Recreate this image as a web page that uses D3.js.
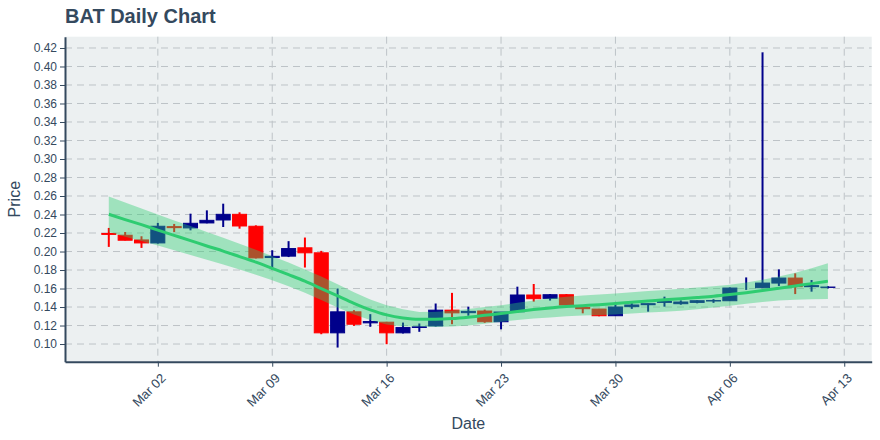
<!DOCTYPE html>
<html><head><meta charset="utf-8">
<script src="https://cdnjs.cloudflare.com/ajax/libs/d3/7.8.5/d3.min.js"></script>
<style>body{margin:0;background:#fff;} svg{display:block;font-family:"Liberation Sans",Arial,sans-serif;}</style>
</head><body><svg id="chart" width="880" height="440"></svg>
<script>
const dates = ["2020-02-28","2020-02-29","2020-03-01","2020-03-02","2020-03-03","2020-03-04","2020-03-05","2020-03-06","2020-03-07","2020-03-08",
"2020-03-09","2020-03-10","2020-03-11","2020-03-12","2020-03-13","2020-03-14","2020-03-15","2020-03-16","2020-03-17","2020-03-18",
"2020-03-19","2020-03-20","2020-03-21","2020-03-22","2020-03-23","2020-03-24","2020-03-25","2020-03-26","2020-03-27","2020-03-28",
"2020-03-29","2020-03-30","2020-03-31","2020-04-01","2020-04-02","2020-04-03","2020-04-04","2020-04-05","2020-04-06","2020-04-07",
"2020-04-08","2020-04-09","2020-04-10","2020-04-11","2020-04-12"];
const open  = [0.2195,0.2176,0.2125,0.2093,0.2269,0.2255,0.2309,0.2341,0.2402,0.2273,
0.1935,0.1950,0.2040,0.1986,0.1121,0.1348,0.1229,0.1236,0.1121,0.1179,
0.1196,0.1366,0.1339,0.1357,0.1241,0.1349,0.1530,0.1494,0.1533,0.1396,
0.1378,0.1306,0.1404,0.1425,0.1450,0.1436,0.1450,0.1465,0.1468,0.1585,
0.1609,0.1659,0.1713,0.1620,0.1612];
const high  = [0.2255,0.2211,0.2165,0.2309,0.2298,0.2409,0.2445,0.2517,0.2424,0.2283,
0.2014,0.2112,0.2151,0.2007,0.1600,0.1366,0.1323,0.1240,0.1232,0.1222,
0.1438,0.1553,0.1404,0.1372,0.1346,0.1620,0.1649,0.1540,0.1540,0.1414,
0.1380,0.1429,0.1447,0.1436,0.1512,0.1472,0.1472,0.1485,0.1612,0.1720,
0.4153,0.1807,0.1764,0.1692,0.1625];
const low   = [0.2050,0.2120,0.2039,0.2086,0.2211,0.2229,0.2305,0.2265,0.2247,0.1925,
0.1805,0.1940,0.1827,0.1106,0.0962,0.1196,0.1186,0.0998,0.1114,0.1132,
0.1190,0.1214,0.1306,0.1230,0.1159,0.1340,0.1458,0.1470,0.1420,0.1332,
0.1300,0.1306,0.1380,0.1350,0.1404,0.1425,0.1440,0.1445,0.1468,0.1585,
0.1605,0.1627,0.1540,0.1566,0.1600];
const close = [0.2185,0.2122,0.2093,0.2273,0.2258,0.2305,0.2337,0.2402,0.2276,0.1931,
0.1948,0.2032,0.1986,0.1121,0.1348,0.1214,0.1243,0.1121,0.1178,0.1186,
0.1366,0.1337,0.1353,0.1241,0.1346,0.1530,0.1490,0.1533,0.1422,0.1382,
0.1306,0.1400,0.1422,0.1436,0.1461,0.1454,0.1468,0.1470,0.1605,0.1585,
0.1659,0.1713,0.1620,0.1631,0.1616];
const trend = [0.2403,0.2345,0.2290,0.2232,0.2175,0.2118,0.2060,0.2005,0.1945,0.1885,
0.1818,0.1750,0.1680,0.1600,0.1520,0.1440,0.1370,0.1315,0.1282,0.1268,
0.1268,0.1275,0.1290,0.1310,0.1330,0.1352,0.1372,0.1390,0.1405,0.1415,
0.1425,0.1438,0.1452,0.1465,0.1478,0.1490,0.1503,0.1517,0.1535,0.1555,
0.1578,0.1603,0.1628,0.1653,0.1680];
const trendUpper = [0.2595,0.2530,0.2465,0.2400,0.2335,0.2275,0.2210,0.2150,0.2085,0.2020,
0.1950,0.1880,0.1805,0.1730,0.1645,0.1560,0.1480,0.1420,0.1375,0.1345,
0.1350,0.1360,0.1380,0.1400,0.1420,0.1445,0.1470,0.1495,0.1512,0.1525,
0.1536,0.1547,0.1560,0.1573,0.1585,0.1597,0.1610,0.1625,0.1642,0.1665,
0.1695,0.1730,0.1770,0.1818,0.1872];
const trendLower = [0.2210,0.2160,0.2115,0.2065,0.2015,0.1962,0.1910,0.1860,0.1805,0.1750,
0.1690,0.1625,0.1555,0.1475,0.1395,0.1320,0.1260,0.1210,0.1190,0.1190,
0.1185,0.1190,0.1200,0.1220,0.1240,0.1260,0.1275,0.1288,0.1300,0.1308,
0.1313,0.1320,0.1330,0.1340,0.1350,0.1360,0.1375,0.1395,0.1415,0.1435,
0.1455,0.1470,0.1478,0.1483,0.1486];
const yTicks = [0.10,0.12,0.14,0.16,0.18,0.20,0.22,0.24,0.26,0.28,0.30,0.32,0.34,0.36,0.38,0.40,0.42];
const xTicks = ["2020-03-02","2020-03-09","2020-03-16","2020-03-23","2020-03-30","2020-04-06","2020-04-13"];

const INK = "#34495e", UP = "#00008b", DOWN = "#ff0000", FIT = "#2ecc71";
const L = 65, R = 871.7, T = 36.7, B = 361.7;
const parse = d3.utcParse("%Y-%m-%d");
const D = dates.map(parse);
const pad = 2.68 * 864e5;
const x = d3.scaleUtc().domain([new Date(+D[0] - pad), new Date(+D[D.length-1] + pad)]).range([L, R]);
const y = d3.scaleLinear().domain([0.0809, 0.4322]).range([B, T]);

const svg = d3.select("#chart");
svg.append("rect").attr("x", L).attr("y", T).attr("width", R-L).attr("height", B-T).attr("fill", "#ecf0f1");

const grid = svg.append("g").attr("stroke", "#bdc3c7").attr("stroke-width", 1).attr("stroke-dasharray", "7,5");
grid.selectAll("line.h").data(yTicks).join("line").attr("class","h")
  .attr("x1", L).attr("x2", R).attr("y1", d => y(d)).attr("y2", d => y(d));
grid.selectAll("line.v").data(xTicks.map(parse)).join("line").attr("class","v")
  .attr("x1", d => x(d)).attr("x2", d => x(d)).attr("y1", T).attr("y2", B);

// candles
const idx = d3.range(D.length);
const cg = svg.append("g");
cg.selectAll("line").data(idx).join("line")
  .attr("x1", i => x(D[i])).attr("x2", i => x(D[i]))
  .attr("y1", i => y(high[i])).attr("y2", i => y(low[i]))
  .attr("stroke", i => close[i] >= open[i] ? UP : DOWN).attr("stroke-width", 2);
cg.selectAll("rect").data(idx.filter(i => open[i] !== close[i])).join("rect")
  .attr("x", i => x(D[i]) - 7).attr("width", 14)
  .attr("y", i => y(Math.max(open[i], close[i])))
  .attr("height", i => Math.abs(y(open[i]) - y(close[i])))
  .attr("fill", i => close[i] >= open[i] ? UP : DOWN)
  .attr("stroke", i => close[i] >= open[i] ? UP : DOWN).attr("stroke-width", 1);

// regression band and line
svg.append("path").datum(idx)
  .attr("d", d3.area().x(i => x(D[i])).y0(i => y(trendLower[i])).y1(i => y(trendUpper[i])))
  .attr("fill", FIT).attr("fill-opacity", 0.4);
svg.append("path").datum(idx)
  .attr("d", d3.line().x(i => x(D[i])).y(i => y(trend[i])).curve(d3.curveMonotoneX))
  .attr("fill", "none").attr("stroke", FIT).attr("stroke-width", 3);

// axes
const ya = svg.append("g").attr("transform", `translate(${L},0)`)
  .call(d3.axisLeft(y).tickValues(yTicks).tickFormat(d3.format(".2f")).tickSize(5).tickSizeOuter(0).tickPadding(3));
const xa = svg.append("g").attr("transform", `translate(0,${B})`)
  .call(d3.axisBottom(x).tickValues(xTicks.map(parse)).tickFormat(d3.utcFormat("%b %d")).tickSize(5).tickSizeOuter(0));
[ya, xa].forEach(g => {
  g.select(".domain").attr("stroke", INK).attr("stroke-width", 2);
  g.selectAll(".tick line").attr("stroke", INK);
  g.selectAll(".tick text").attr("fill", INK).attr("font-size", 12).attr("font-family", '"Liberation Sans",Arial,sans-serif');
});
xa.selectAll(".tick text").attr("text-anchor", "end").attr("dy", "0.35em").attr("y", 0).attr("font-size", 13)
  .attr("transform", "translate(5,14) rotate(-45)");

svg.append("text").attr("x", L).attr("y", 23).attr("fill", INK).attr("font-size", 20).attr("font-weight", "bold").text("BAT Daily Chart");
svg.append("text").attr("x", (L+R)/2).attr("y", 429).attr("text-anchor", "middle").attr("fill", INK).attr("font-size", 16).text("Date");
svg.append("text").attr("transform", `translate(20,${(T+B)/2}) rotate(-90)`).attr("text-anchor", "middle").attr("fill", INK).attr("font-size", 16).text("Price");
</script></body></html>
